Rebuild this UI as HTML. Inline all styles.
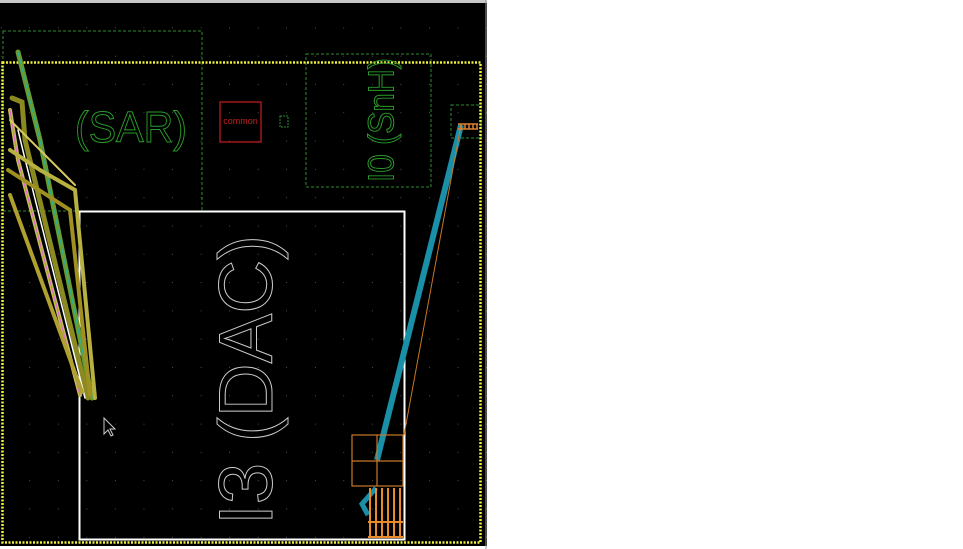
<!DOCTYPE html>
<html><head><style>
body{margin:0;background:#fff;width:963px;height:549px;overflow:hidden}
svg{position:absolute;left:0;top:0}
</style></head><body>
<svg width="963" height="549" xmlns="http://www.w3.org/2000/svg">
<defs>
<pattern id="g" x="1.5" y="0" width="28.55" height="28.3" patternUnits="userSpaceOnUse">
<rect x="28" y="27.5" width="2" height="2" fill="#b0b0b0"/>
</pattern>
</defs>
<rect x="0" y="0" width="487" height="3" fill="#c8c8c8"/>
<rect x="0" y="3" width="487" height="543" fill="#000"/>
<rect x="0" y="3" width="487" height="543" fill="url(#g)"/>
<line x1="486" y1="0" x2="486" y2="549" stroke="#999" stroke-width="1"/>
<rect x="3" y="31" width="199" height="180" fill="none" stroke="#2d8a2d" stroke-width="1" stroke-dasharray="3,2"/>
<rect x="306" y="54" width="125" height="133" fill="none" stroke="#2d8a2d" stroke-width="1" stroke-dasharray="3,2"/>
<rect x="451" y="105" width="30" height="33" fill="none" stroke="#2d8a2d" stroke-width="1" stroke-dasharray="3,2"/>
<rect x="280" y="116" width="8" height="11" fill="none" stroke="#2d8a2d" stroke-width="1" stroke-dasharray="2,1"/>
<rect x="2.5" y="62.5" width="478" height="480" fill="none" stroke="#f0f040" stroke-width="2.5" stroke-dasharray="2,1.5"/>
<rect x="220" y="102" width="41" height="40" fill="none" stroke="#a01818" stroke-width="1.5"/>
<text x="240.5" y="124" font-family="Liberation Sans,sans-serif" font-size="9" fill="#c02020" text-anchor="middle">common</text>
<text x="131" y="142" font-family="Liberation Sans,sans-serif" font-size="44" fill="none" stroke="#2a9a2a" stroke-width="1" text-anchor="middle" textLength="112" lengthAdjust="spacingAndGlyphs">(SAR)</text>
<text transform="translate(384,120) rotate(-90)" x="0" y="0" font-family="Liberation Sans,sans-serif" font-size="36" fill="none" stroke="#2a9a2a" stroke-width="1" text-anchor="middle" dominant-baseline="middle" textLength="124" lengthAdjust="spacingAndGlyphs">I0 (SnH)</text>
<rect x="79.5" y="211.5" width="325" height="328" fill="none" stroke="#fff" stroke-width="2"/>
<text transform="translate(252,380) rotate(-90)" font-family="Liberation Sans,sans-serif" font-size="76" fill="none" stroke="#ccc" stroke-width="1" text-anchor="middle" dominant-baseline="middle" textLength="290" lengthAdjust="spacingAndGlyphs">I3 (DAC)</text>
<g fill="none" stroke-linecap="round">
<path d="M18,52 L40,140 L92,398" stroke="#6a9a2a" stroke-width="5"/>
<path d="M18,52 L40,140 L92,398" stroke="#2ab0a0" stroke-width="1"/>
<path d="M12,98 L22,102 L25,140 L88,398" stroke="#8a8a20" stroke-width="5"/>
<path d="M10,110 L18,160 L80,395" stroke="#c0c050" stroke-width="4"/>
<path d="M10,110 L18,160 L80,395" stroke="#e060d0" stroke-width="1"/>
<path d="M18,130 L24,155 L85,398" stroke="#fff" stroke-width="1.5"/>
<path d="M10,150 L40,170 L75,190 L95,398" stroke="#b8b040" stroke-width="4"/>
<path d="M8,170 L70,210 L90,395" stroke="#a09020" stroke-width="4"/>
<path d="M10,195 L82,392" stroke="#b0a030" stroke-width="4"/>
<path d="M10,120 L75,185" stroke="#d8c860" stroke-width="2"/>
</g>
<path d="M104,418 L104,434 L108,430 L111,436 L113,435 L110,429 L115,429 Z" fill="#000" stroke="#ccc" stroke-width="1"/>
<line x1="461" y1="125" x2="377" y2="460" stroke="#1a90a8" stroke-width="6"/>
<line x1="461" y1="125" x2="404" y2="435" stroke="#c87820" stroke-width="1"/>
<path d="M376,488 L362,504 L368,515" fill="none" stroke="#1a90a8" stroke-width="5"/>
<g stroke="#e08030" stroke-width="1.5">
<line x1="458" y1="124" x2="478" y2="124"/><line x1="458" y1="129" x2="478" y2="129"/>
<line x1="461" y1="124" x2="461" y2="129"/><line x1="465" y1="124" x2="465" y2="129"/><line x1="469" y1="124" x2="469" y2="129"/><line x1="473" y1="124" x2="473" y2="129"/><line x1="477" y1="124" x2="477" y2="129"/>
</g>
<g fill="none" stroke="#c87828" stroke-width="1.2">
<rect x="352" y="435" width="51" height="51"/>
<line x1="377" y1="435" x2="377" y2="486"/>
<line x1="352" y1="461" x2="403" y2="461"/>
</g>
<g stroke="#e88a28" stroke-width="2">
<line x1="370" y1="488" x2="370" y2="537"/><line x1="376" y1="488" x2="376" y2="537"/><line x1="382" y1="488" x2="382" y2="537"/><line x1="388" y1="488" x2="388" y2="537"/><line x1="394" y1="488" x2="394" y2="537"/><line x1="400" y1="488" x2="400" y2="537"/>
<line x1="368" y1="522" x2="403" y2="522"/><line x1="368" y1="537" x2="403" y2="537"/>
</g>
</svg>
</body></html>
